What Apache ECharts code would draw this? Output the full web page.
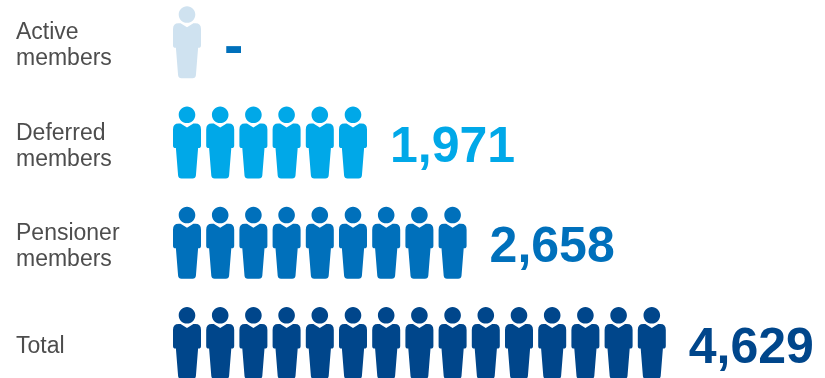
<!DOCTYPE html>
<html>
<head>
<meta charset="utf-8">
<style>html,body{margin:0;padding:0;background:#fff}#chart{width:825px;height:378px}</style>
<script src="https://cdn.jsdelivr.net/npm/echarts@6/dist/echarts.min.js"></script>
</head>
<body>
<div id="chart"></div>
<script>
// Scheme membership, one person icon per block of members
const categories = ['Active\nmembers', 'Deferred\nmembers', 'Pensioner\nmembers', 'Total'];
const memberCounts = [1, 1971, 2658, 4629];
const valueLabels = ['-', '1,971', '2,658', '4,629'];
const iconColors = ['#cfe2f0', '#00a8e8', '#0070bb', '#00468b'];
const labelColors = ['#0070bb', '#00a8e8', '#0070bb', '#00468b'];
const membersPerIcon = 330;
const iconSlots = 19;

// Head and body of the person icon, drawn in a 28 x 72 box
const personPath = 'path://M14 0C18.6 0 22.3 3.7 22.3 8.3C22.3 12.9 18.6 16.6 14 16.6C9.4 16.6 5.7 12.9 5.7 8.3C5.7 3.7 9.4 0 14 0Z' +
  'M7.6 17.2L14 21.2L20.4 17.2L22.5 17.2Q28 17.2 28 23L28 39Q28 41.7 25.4 41.7L25.1 41.7L22.9 69Q22.6 72 19.6 72L8.4 72Q5.4 72 5.1 69L2.9 41.7L2.6 41.7Q0 41.7 0 39L0 23Q0 17.2 5.5 17.2Z';

const slotWidth = 33.2;
const iconWidth = 28;
const labelGap = 23;
const iconMargin = (slotWidth - iconWidth) / 2;
const rowShift = 4;

const seriesData = memberCounts.map((v, i) => ({
  value: v,
  itemStyle: { color: iconColors[i] }
}));

// Figures sit just past the last whole icon of each row; the dash is set a little larger
const figureData = memberCounts.map((v, i) => ({
  value: [Math.ceil(v / membersPerIcon) * membersPerIcon, categories[i]],
  label: valueLabels[i] === '-'
    ? { formatter: valueLabels[i], color: labelColors[i], fontSize: 58, offset: [0, 3] }
    : { formatter: valueLabels[i], color: labelColors[i] }
}));

const chart = echarts.init(document.getElementById('chart'), null, { renderer: 'canvas' });
chart.setOption({
  animation: false,
  backgroundColor: '#fff',
  grid: { outerBoundsMode: 'none', left: 170.4, top: -8 + rowShift, width: slotWidth * iconSlots, height: 401 },
  xAxis: { type: 'value', min: 0, max: membersPerIcon * iconSlots, show: false },
  yAxis: {
    type: 'category',
    inverse: true,
    data: categories,
    axisLine: { show: false },
    axisTick: { show: false },
    axisLabel: {
      align: 'left',
      margin: 154.4,
      color: '#4d4d4d',
      fontFamily: 'Liberation Sans',
      fontSize: 23,
      lineHeight: 26
    }
  },
  series: [{
    type: 'pictorialBar',
    symbol: personPath,
    symbolSize: [iconWidth, 72],
    symbolOffset: [0, -rowShift],
    symbolRepeat: true,
    symbolMargin: iconMargin + '!',
    symbolBoundingData: membersPerIcon * iconSlots,
    symbolClip: false,
    data: seriesData
  }, {
    type: 'scatter',
    symbolSize: 0,
    silent: true,
    itemStyle: { opacity: 1 },
    label: {
      show: true,
      position: 'right',
      distance: labelGap - iconMargin,
      offset: [0, 6 - rowShift],
      fontFamily: 'Liberation Sans',
      fontWeight: 'bold',
      fontSize: 50
    },
    data: figureData
  }]
});
</script>
</body>
</html>
